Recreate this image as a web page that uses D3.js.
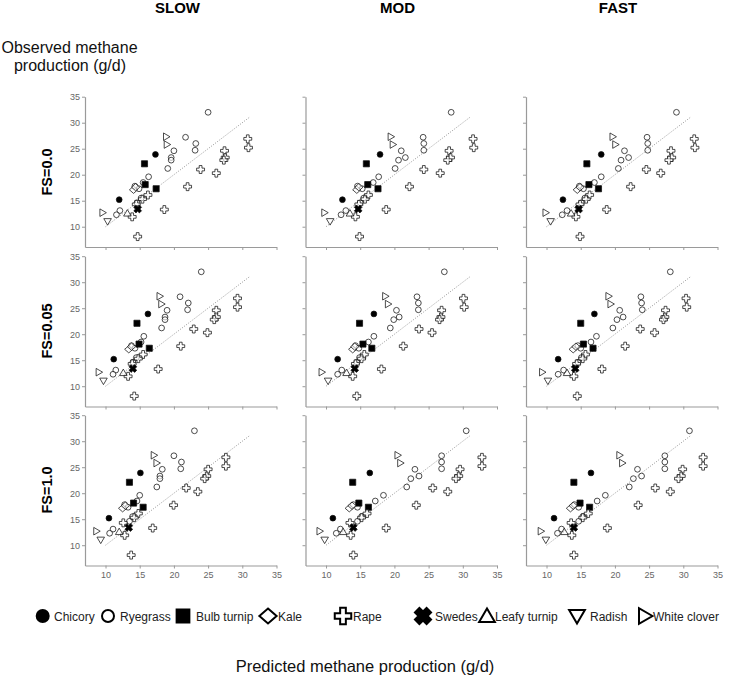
<!DOCTYPE html>
<html><head><meta charset="utf-8">
<script src="https://cdn.jsdelivr.net/npm/d3@7"></script>
<style>body{margin:0;background:#fff} text{font-family:"Liberation Sans",Arial,sans-serif}</style>
</head><body><svg id="c" width="729" height="680"></svg>
<script>
const columns = ["SLOW", "MOD", "FAST"];
const rowLabels = ["FS=0.0", "FS=0.05", "FS=1.0"];
const legendItems = ["Chicory","Ryegrass","Bulb turnip","Kale","Rape","Swedes","Leafy turnip","Radish","White clover"];
const tickValues = [10, 15, 20, 25, 30, 35];

const species = ["Chicory","Chicory","Ryegrass","Ryegrass","Ryegrass","Ryegrass","Ryegrass","Ryegrass","Ryegrass","Ryegrass","Ryegrass","Ryegrass","Ryegrass","Ryegrass","Ryegrass","Ryegrass","Ryegrass","Ryegrass","Bulb turnip","Bulb turnip","Bulb turnip","Kale","Kale","Rape","Rape","Rape","Rape","Rape","Rape","Rape","Rape","Rape","Rape","Rape","Rape","Rape","Rape","Swedes","Leafy turnip","Radish","White clover","White clover","White clover"];
const observed = [15.2,23.9,32.0,27.2,26.0,24.7,24.6,23.3,22.8,21.2,19.6,18.5,17.8,17.3,15.5,14.6,13.1,12.3,22.1,18.1,17.3,17.1,17.6,26.9,25.2,24.6,23.3,22.8,21.0,20.3,17.7,13.3,16.1,15.3,14.3,11.9,8.1,13.4,12.6,11.0,27.3,25.8,12.7];

const predSLOW_FS0 = [12.0,17.3,25.0,21.7,23.2,23.1,20.0,19.6,19.6,19.1,16.3,15.5,14.3,14.9,15.2,14.6,12.1,11.6,15.7,15.8,17.4,14.1,14.4,30.8,30.9,27.4,27.5,27.3,23.9,26.2,22.0,18.6,16.2,15.4,14.5,13.9,14.7,14.7,13.2,10.3,18.9,19.0,9.6];
const predMOD_FS0  = [12.4,17.9,28.3,24.2,24.3,24.3,21.0,21.6,20.6,20.1,17.7,16.9,14.6,15.3,15.5,15.0,12.9,12.2,15.9,16.1,17.6,14.5,14.8,31.5,31.6,28.0,28.2,27.8,24.3,26.7,22.2,18.8,16.2,15.7,14.8,14.3,14.9,14.7,13.5,10.6,19.5,19.8,9.8];
const predFAST_FS0 = [12.4,18.0,29.0,24.7,24.8,24.8,21.4,22.0,20.9,20.5,18.0,17.0,14.8,15.4,15.6,15.1,13.0,12.3,15.9,16.2,17.6,14.5,14.9,31.6,31.7,28.2,28.3,27.9,24.6,26.7,22.3,18.8,16.3,15.8,14.9,14.3,14.9,14.7,13.6,10.6,19.7,20.1,9.9];
const predSLOW_FS005 = [11.2,16.2,24.0,20.9,22.1,22.0,19.0,18.7,18.7,18.2,15.6,15.2,13.8,14.3,14.5,14.0,11.5,11.1,14.6,14.9,16.4,13.4,13.8,29.3,29.3,26.2,26.2,25.9,22.9,24.9,21.0,17.7,15.5,14.8,13.9,13.3,14.2,14.0,12.6,9.7,17.95,18.2,9.05];
const predMOD_FS005  = [11.7,17.0,27.3,23.3,23.5,23.5,20.3,20.7,19.9,19.4,17.0,16.2,14.3,14.8,14.9,14.5,12.3,11.7,14.9,15.4,16.7,13.9,14.2,30.1,30.2,26.9,26.8,26.6,23.6,25.5,21.3,18.1,15.6,15.2,14.3,13.9,14.5,14.2,13.0,10.3,18.7,19.1,9.4];
const predFAST_FS005 = [11.7,17.0,28.1,23.8,23.9,24.0,20.7,21.2,20.3,19.7,17.3,16.5,14.6,15.0,15.1,14.6,12.5,11.7,15.0,15.4,16.8,13.9,14.3,30.4,30.5,27.4,27.3,27.1,23.7,25.8,21.5,18.1,15.7,15.3,14.4,14.0,14.5,14.2,13.0,10.2,19.1,19.4,9.4];
const predSLOW_FS1 = [10.5,15.1,23.0,20.0,21.1,21.0,18.3,17.95,17.95,17.5,15.0,14.6,12.8,13.3,13.95,13.5,11.1,10.6,13.5,14.1,15.5,12.5,12.9,27.6,27.6,25.0,24.8,24.5,21.8,23.5,19.95,16.9,14.8,14.2,12.6,12.8,13.75,13.4,12.0,9.3,17.1,17.5,8.7];
const predMOD_FS1  = [11.0,16.4,30.5,26.9,26.9,26.9,23.0,23.6,22.4,21.8,18.4,17.2,14.0,14.6,15.2,14.6,12.1,11.5,13.9,14.8,16.2,13.4,13.8,32.8,32.8,29.6,29.4,29.0,25.6,27.8,23.2,18.8,16.0,15.2,13.5,13.6,14.0,14.0,12.5,9.8,20.5,20.9,9.1];
const predFAST_FS1 = [11.1,16.5,30.9,27.3,27.3,27.3,23.3,23.9,22.7,22.1,18.6,17.4,14.1,14.7,15.3,14.7,12.2,11.6,14.0,14.9,16.3,13.5,13.9,32.9,32.9,29.9,29.7,29.3,25.9,28.1,23.4,18.9,16.1,15.3,13.6,13.7,14.0,14.0,12.6,9.9,20.7,21.1,9.2];

const predicted = [
  [predSLOW_FS0, predMOD_FS0, predFAST_FS0],
  [predSLOW_FS005, predMOD_FS005, predFAST_FS005],
  [predSLOW_FS1, predMOD_FS1, predFAST_FS1]
];

const svg = d3.select("#c");
const colX0 = [85, 305.5, 526];
const rowAxisY = [247, 406.5, 565.5];
const plotW = 191.5, plotH = 150.3;

function poly(pts){ return "M" + pts.map(p => p[0].toFixed(2) + "," + p[1].toFixed(2)).join("L") + "Z"; }
function shapePath(sp, k){
  switch(sp){
    case "Chicory":
    case "Ryegrass": {
      const r = k*0.8;
      return `M${r},0A${r},${r} 0 1,1 ${-r},0A${r},${r} 0 1,1 ${r},0Z`;
    }
    case "Bulb turnip": { const s = k*0.85; return poly([[-s,-s],[s,-s],[s,s],[-s,s]]); }
    case "Kale": { return poly([[0,-k*1.0],[k*1.15,0],[0,k*1.0],[-k*1.15,0]]); }
    case "Rape": { const a = k*0.38, L = k*1.1; return poly([[-a,-L],[a,-L],[a,-a],[L,-a],[L,a],[a,a],[a,L],[-a,L],[-a,a],[-L,a],[-L,-a],[-a,-a]]); }
    case "Swedes": {
      const a = k*0.42, L = k*1.1;
      const base = [[-a,-L],[a,-L],[a,-a],[L,-a],[L,a],[a,a],[a,L],[-a,L],[-a,a],[-L,a],[-L,-a],[-a,-a]];
      const c = Math.SQRT1_2;
      return poly(base.map(p => [c*(p[0]-p[1]), c*(p[0]+p[1])]));
    }
    case "Leafy turnip": return poly([[0,-k],[k*1.05,k*0.8],[-k*1.05,k*0.8]]);
    case "Radish": return poly([[0,k],[k*1.05,-k*0.8],[-k*1.05,-k*0.8]]);
    case "White clover": return poly([[k,0],[-k*0.8,-k*1.05],[-k*0.8,k*1.05]]);
  }
}
const filled = new Set(["Chicory","Bulb turnip","Swedes"]);

for (let r = 0; r < 3; r++) {
  for (let c = 0; c < 3; c++) {
    const x0 = colX0[c], ay = rowAxisY[r];
    const x = d3.scaleLinear().domain([7, 35]).range([x0, x0 + plotW]);
    const y = d3.scaleLinear().domain([6.1, 35]).range([ay, ay - plotH]);
    const g = svg.append("g");
    const yAxis = d3.axisLeft(y).tickValues(tickValues).tickSize(3).tickSizeOuter(0).tickPadding(2);
    if (c > 0) yAxis.tickFormat("");
    const ya = g.append("g").attr("transform", `translate(${x0},0)`).call(yAxis);
    const xAxis = d3.axisBottom(x).tickValues(tickValues).tickSize(3).tickSizeOuter(0).tickPadding(3);
    if (r < 2) xAxis.tickFormat("");
    const xa = g.append("g").attr("transform", `translate(0,${ay})`).call(xAxis);
    [ya, xa].forEach(a => {
      a.select(".domain").attr("stroke", "#9a9a9a").attr("stroke-width", 1.2);
      a.selectAll(".tick line").attr("stroke", "#9a9a9a");
      a.selectAll(".tick text").attr("fill", "#666").attr("font-size", 9)
        .attr("font-family", '"Liberation Sans",Arial,sans-serif');
    });
    g.append("line").attr("x1", x(10)).attr("y1", y(10)).attr("x2", x(31)).attr("y2", y(31))
      .attr("stroke", "#8a8a8a").attr("stroke-width", 0.9).attr("stroke-dasharray", "1,1.6");
    const pred = predicted[r][c];
    const pts = observed.map((o, i) => ({o, p: pred[i], s: species[i]}));
    g.selectAll("path.pt").data(pts).join("path").attr("class", "pt")
      .attr("transform", d => `translate(${x(d.p)},${y(d.o)})`)
      .attr("d", d => shapePath(d.s, 3.6))
      .attr("fill", d => filled.has(d.s) ? "#000" : "#fff")
      .attr("fill-opacity", d => filled.has(d.s) ? 1 : 0.6)
      .attr("stroke", "#111").attr("stroke-width", 0.75);
  }
}

const colTitleX = [177.5, 397.5, 618];
columns.forEach((t, i) => svg.append("text").attr("x", colTitleX[i]).attr("y", 13)
  .attr("text-anchor", "middle").attr("font-weight", "bold").attr("font-size", 15).attr("fill", "#000").text(t));
const rowCenter = [172, 331, 490];
rowLabels.forEach((t, i) => svg.append("text")
  .attr("transform", `translate(52,${rowCenter[i]}) rotate(-90)`)
  .attr("text-anchor", "middle").attr("font-weight", "bold").attr("font-size", 14.5).attr("fill", "#000").text(t));
svg.append("text").attr("x", 69.5).attr("y", 52.5).attr("text-anchor", "middle").attr("font-size", 16).attr("fill", "#111").text("Observed methane");
svg.append("text").attr("x", 70).attr("y", 70.5).attr("text-anchor", "middle").attr("font-size", 16).attr("fill", "#111").text("production (g/d)");
svg.append("text").attr("x", 365).attr("y", 672).attr("text-anchor", "middle").attr("font-size", 16.5).attr("fill", "#111").text("Predicted methane production (g/d)");

const legSymX = [42.7, 108, 183, 268, 343, 423, 487, 577, 645];
const legTextX = [54, 120, 196, 278, 353, 435, 495, 590, 653];
const legY = 616;
legendItems.forEach((s, i) => {
  svg.append("path").attr("transform", `translate(${legSymX[i]},${legY})`)
    .attr("d", shapePath(s, 7.5))
    .attr("fill", filled.has(s) ? "#000" : "#fff")
    .attr("stroke", "#000").attr("stroke-width", 2);
  svg.append("text").attr("x", legTextX[i]).attr("y", legY + 4.5).attr("font-size", 12).attr("fill", "#222").text(s);
});
</script></body></html>
